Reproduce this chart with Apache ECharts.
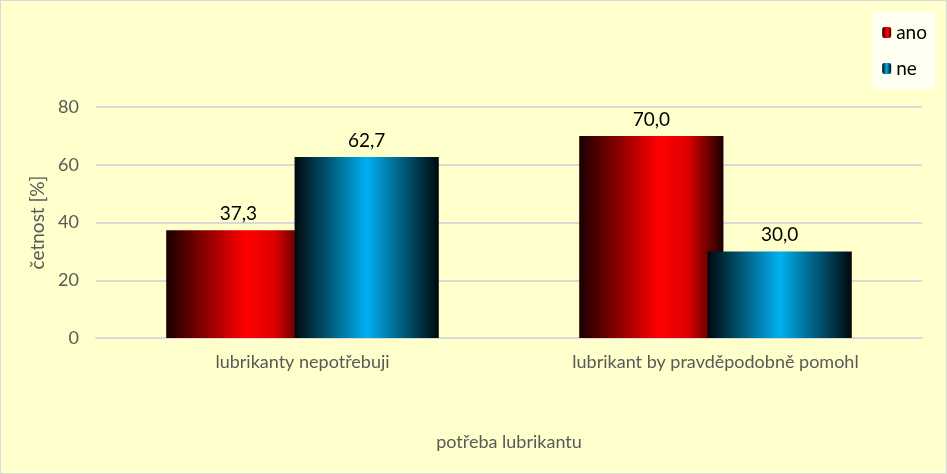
<!DOCTYPE html>
<html><head><meta charset="utf-8">
<script src="https://cdn.jsdelivr.net/npm/echarts@6/dist/echarts.min.js"></script>
<style>
html,body{margin:0;padding:0;background:#fff;}
#c{width:945px;height:472px;border:1px solid #D9D9D9;background:#FFFFCC;}
</style></head>
<body><div id="c"></div>
<script>
var categories = ['lubrikanty nepotřebuji', 'lubrikant by pravděpodobně pomohl'];
var seriesNames = ['ano', 'ne'];
var anoValues = [37.3, 70.0];
var neValues = [62.7, 30.0];
var yTicks = [0, 20, 40, 60, 80];

var FONT = 'Lato';
function grad(stops){
  return new echarts.graphic.LinearGradient(0,0,1,0, stops);
}
var redFill = grad([{offset:0,color:'#1a0000'},{offset:0.55,color:'#FF0000'},{offset:0.75,color:'#E00000'},{offset:1,color:'#1a0000'}]);
var blueFill = grad([{offset:0,color:'#00080c'},{offset:0.5,color:'#00B0F0'},{offset:1,color:'#00080c'}]);
function fmt(p){ return p.value.toFixed(1).replace('.', ','); }

var chart = echarts.init(document.getElementById('c'), null, {renderer:'canvas'});
chart.setOption({
  backgroundColor: '#FFFFCC',
  animation: false,
  textStyle: {fontFamily: FONT},
  legend: {
    orient: 'vertical',
    right: 11, top: 11,
    padding: [11, 8, 11, 10],
    backgroundColor: '#FFFFF2',
    itemWidth: 9, itemHeight: 11,
    itemGap: 17,
    textStyle: {fontFamily: FONT, fontSize: 19, color: '#000'},
    data: seriesNames
  },
  grid: {left: 95, right: 24, top: 106, bottom: 135},
  xAxis: {
    type: 'category',
    data: categories,
    name: 'potřeba lubrikantu',
    nameLocation: 'middle',
    nameGap: 95,
    nameTextStyle: {fontFamily: FONT, fontSize: 18, color: '#595959'},
    axisLine: {lineStyle: {color: '#D9D9D9', width: 2}},
    axisTick: {show: false},
    axisLabel: {fontFamily: FONT, fontSize: 18, color: '#595959', margin: 15}
  },
  yAxis: {
    type: 'value',
    min: yTicks[0], max: yTicks[yTicks.length-1], interval: 20,
    name: 'četnost [%]',
    nameLocation: 'middle',
    nameRotate: 90,
    nameGap: 48,
    nameTextStyle: {fontFamily: FONT, fontSize: 19, color: '#595959'},
    axisLine: {show: false},
    axisTick: {show: false},
    axisLabel: {fontFamily: FONT, fontSize: 18, color: '#595959', margin: 17},
    splitLine: {lineStyle: {color: '#D9D9D9', width: 2}}
  },
  series: [
    {
      name: seriesNames[0], type: 'bar', data: anoValues,
      barGap: '-11%', barCategoryGap: '34%',
      itemStyle: {color: redFill},
      label: {show: true, position: 'top', distance: 7, formatter: fmt,
        fontFamily: FONT, fontSize: 19, color: '#000'}
    },
    {
      name: seriesNames[1], type: 'bar', data: neValues,
      barGap: '-11%', barCategoryGap: '34%',
      itemStyle: {color: blueFill},
      label: {show: true, position: 'top', distance: 7, formatter: fmt,
        fontFamily: FONT, fontSize: 19, color: '#000'}
    }
  ]
});
</script></body></html>
